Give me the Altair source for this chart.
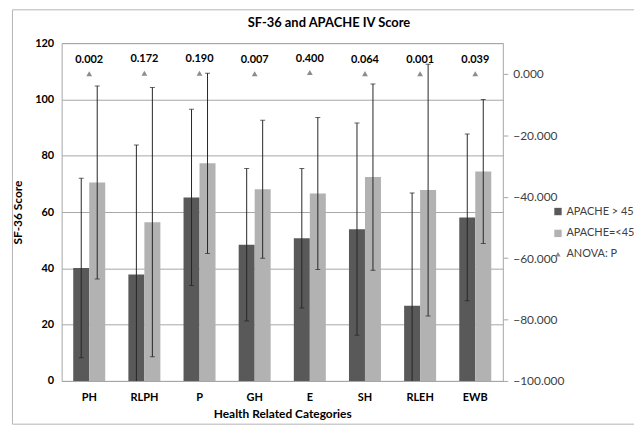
import altair as alt
import pandas as pd

categories = ["PH", "RLPH", "P", "GH", "E", "SH", "RLEH", "EWB"]
group_names = ["APACHE > 45", "APACHE=<45"]
high_mean = [40.1, 37.8, 65.2, 48.4, 50.7, 53.9, 26.7, 58.1]
high_sd = [31.9, 46.0, 31.3, 27.1, 24.8, 37.7, 40.1, 29.6]
low_mean = [70.5, 56.4, 77.3, 68.1, 66.6, 72.4, 67.8, 74.4]
low_sd = [34.3, 47.8, 32.0, 24.5, 27.0, 33.1, 44.7, 25.6]
pvals = [0.002, 0.172, 0.190, 0.007, 0.400, 0.064, 0.001, 0.039]
p_label = "ANOVA: P"

rows = []
for i, c in enumerate(categories):
    rows.append(dict(cat=c, group=group_names[0], mean=high_mean[i], sd=high_sd[i]))
    rows.append(dict(cat=c, group=group_names[1], mean=low_mean[i], sd=low_sd[i]))
bars_df = pd.DataFrame(rows)
p_df = pd.DataFrame(dict(cat=categories, p=pvals, label=[p_label] * len(categories)))

FONT = "Lato"
GRID = "#a6a6a6"

xenc = alt.X(
    "cat:N",
    sort=categories,
    scale=alt.Scale(paddingInner=0.42, paddingOuter=0.21),
    axis=alt.Axis(
        title="Health Related Categories",
        labelFontWeight="bold",
        labelFontSize=11,
        labelColor="#000000",
        labelAngle=0,
        labelPadding=11,
        ticks=False,
        domainColor=GRID,
        titleFontWeight="bold",
        titleFontSize=12,
        titleColor="#000000",
        titlePadding=6,
    ),
)
xoff = alt.XOffset(
    "group:N",
    sort=group_names,
    scale=alt.Scale(domain=group_names, paddingInner=0, paddingOuter=0),
)
yscale = alt.Scale(domain=[0, 120])
yaxis = alt.Axis(
    values=[0, 20, 40, 60, 80, 100, 120],
    title="SF-36 Score",
    orient="left",
    labelFontWeight="bold",
    labelFontSize=11,
    labelColor="#000000",
    labelPadding=8,
    ticks=False,
    domain=False,
    gridColor=GRID,
    titleFontWeight="bold",
    titleFontSize=12,
    titleColor="#000000",
    titlePadding=10,
)

bars = alt.Chart(bars_df).mark_bar().encode(
    x=xenc,
    xOffset=xoff,
    y=alt.Y("mean:Q", scale=yscale, axis=yaxis),
    color=alt.Color(
        "group:N",
        scale=alt.Scale(domain=group_names, range=["#595959", "#b2b2b2"]),
        legend=alt.Legend(
            orient="none",
            legendX=494,
            legendY=164,
            title=None,
            symbolType="square",
            symbolSize=55,
            symbolStrokeWidth=0,
            labelFontSize=11,
            labelColor="#404040",
            labelFont=FONT,
            rowPadding=10,
            labelOffset=3,
            labelLimit=200,
        ),
    ),
)

base_err = alt.Chart(bars_df).transform_calculate(
    lo="datum.mean - datum.sd", hi="datum.mean + datum.sd"
)
err = base_err.mark_rule(color="#262626", strokeWidth=1, clip=True).encode(
    x=xenc, xOffset=xoff, y=alt.Y("lo:Q", scale=yscale, axis=yaxis), y2="hi:Q"
)
cap_lo = base_err.mark_tick(color="#262626", size=5, thickness=1, clip=True).encode(
    x=xenc, xOffset=xoff, y=alt.Y("lo:Q", scale=yscale, axis=yaxis)
)
cap_hi = base_err.mark_tick(color="#262626", size=5, thickness=1, clip=True).encode(
    x=xenc, xOffset=xoff, y=alt.Y("hi:Q", scale=yscale, axis=yaxis)
)

left = alt.layer(bars, err, cap_lo, cap_hi)

rscale = alt.Scale(domain=[-100, 10])
raxis = alt.Axis(
    orient="right",
    values=[-100, -80, -60, -40, -20, 0],
    format=".3f",
    title=None,
    grid=False,
    domain=False,
    tickColor=GRID,
    tickSize=5,
    labelFontSize=12,
    labelColor="#404040",
    labelPadding=5,
)

tri = alt.Chart(p_df).mark_point(
    shape="triangle-up", filled=True, size=34, color="#8c8c8c", opacity=1
).encode(
    x=xenc,
    y=alt.Y("p:Q", scale=rscale, axis=raxis),
    shape=alt.Shape(
        "label:N",
        scale=alt.Scale(domain=[p_label], range=["triangle-up"]),
        legend=alt.Legend(
            orient="none",
            legendX=494,
            legendY=207,
            title=None,
            symbolSize=30,
            symbolFillColor="#8c8c8c",
            symbolStrokeWidth=0,
            labelFontSize=11,
            labelColor="#404040",
            labelFont=FONT,
            labelOffset=3,
            labelLimit=200,
        ),
    ),
)
txt = alt.Chart(p_df).mark_text(
    dy=-14, fontWeight="bold", fontSize=11, color="#000000", font=FONT
).encode(
    x=xenc,
    y=alt.Y("p:Q", scale=rscale, axis=raxis),
    text=alt.Text("p:Q", format=".3f"),
)

right = alt.layer(tri, txt)

frame = alt.Chart(pd.DataFrame({"k": [0]})).mark_rect(
    fill=None, stroke="#b4b4b4", strokeWidth=1
).encode(
    x=alt.value(-49.5), x2=alt.value(700), y=alt.value(-33.5), y2=alt.value(383.5)
)

chart = (
    alt.layer(left, right, frame)
    .resolve_scale(y="independent")
    .properties(
        width=444,
        height=340,
        padding={"left": 54, "top": 34, "right": 132, "bottom": 44},
        autosize=alt.AutoSizeParams(type="none"),
        title=alt.Title(
            "SF-36 and APACHE IV Score",
            fontSize=13,
            fontWeight="bold",
            color="#000000",
            anchor="middle",
            dx=47,
            offset=-20.5,
        ),
    )
    .configure(font=FONT)
    .configure_view(stroke=GRID, strokeWidth=1)
)

chart.save("out.html", embed_options={"renderer": "svg", "actions": False})
